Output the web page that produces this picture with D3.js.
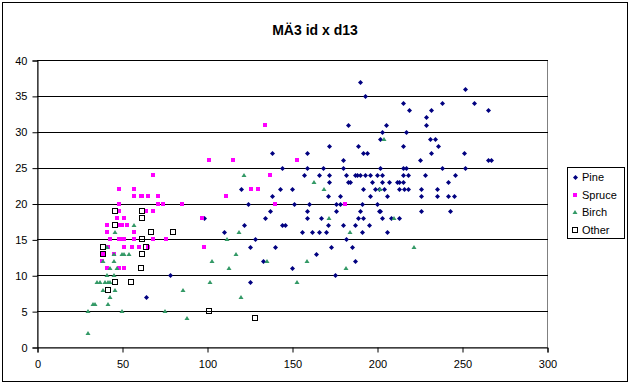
<!DOCTYPE html>
<html>
<head>
<meta charset="utf-8">
<script src="https://cdn.jsdelivr.net/npm/d3@7"></script>
<style>
  body { margin: 0; background: #fff; }
  svg { display: block; font-family: "Liberation Sans", Arial, sans-serif; }
</style>
</head>
<body>
<div id="chart"></div>
<script>
// values: [id, d13]
const pine = [
  [190, 37], [252, 36], [193, 35], [215, 34], [238, 34], [257, 34],
  [219, 33], [232, 33], [265, 33], [229, 32], [183, 31], [205, 31], [229, 31],
  [203, 30], [217, 30], [202, 29], [231, 29], [234, 29],
  [172, 28], [189, 28], [215, 28], [236, 28],
  [138, 27], [159, 27], [192, 27], [194, 27], [232, 27], [251, 27],
  [180, 26], [225, 26], [265, 26], [267, 26],
  [144, 25], [159, 25], [168, 25], [180, 25], [202, 25], [215, 25], [217, 25], [238, 25], [252, 25],
  [157, 24], [166, 24], [172, 24], [182, 24], [187, 24], [188, 24], [190, 24], [193, 24],
  [196, 24], [200, 24], [203, 24], [215, 24], [218, 24], [228, 24], [246, 24],
  [172, 23], [183, 23], [184, 23], [197, 23], [203, 23], [207, 23], [212, 23], [213, 23], [215, 23], [242, 23],
  [120, 22], [143, 22], [150, 22], [192, 22], [199, 22], [201, 22], [204, 22], [213, 22],
  [216, 22], [218, 22], [226, 22], [235, 22],
  [138, 21], [171, 21], [178, 21], [196, 21], [206, 21], [226, 21], [235, 21], [242, 21], [245, 21],
  [124, 20], [151, 20], [160, 20], [176, 20], [178, 20], [191, 20], [200, 20],
  [137, 19], [159, 19], [176, 19], [190, 19], [201, 19], [202, 19], [226, 19], [243, 19],
  [98, 18], [134, 18], [159, 18], [167, 18], [189, 18], [192, 18], [203, 18], [208, 18], [213, 18],
  [122, 17], [144, 17], [146, 17], [171, 17], [180, 17], [187, 17], [195, 17],
  [110, 16], [156, 16], [162, 16], [166, 16], [170, 16], [191, 16], [206, 16],
  [128, 15], [182, 15], [125, 14], [140, 14], [173, 14], [185, 14],
  [164, 13], [133, 12], [187, 12], [150, 11], [78, 10], [175, 10], [125, 9], [64, 7]
];
const spruce = [
  [134, 31], [101, 26], [115, 26], [153, 26], [68, 24], [137, 24],
  [48, 22], [57, 22], [126, 22], [130, 22],
  [57, 21], [61, 21], [62, 21], [65, 21], [71, 21], [111, 21],
  [48, 20], [71, 20], [74, 20], [85, 20], [140, 20], [181, 20],
  [48, 19], [64, 19], [68, 19], [47, 18], [51, 18], [97, 18],
  [41, 17], [48, 17], [50, 17], [53, 17], [41, 16], [57, 16],
  [43, 15], [48, 15], [50, 15], [51, 15], [57, 15], [68, 15], [76, 15],
  [42, 14], [51, 14], [56, 14], [60, 14], [65, 14], [98, 14],
  [39, 13], [45, 13], [38, 12], [41, 11], [48, 11], [51, 11]
];
const birch = [
  [204, 29], [122, 24], [163, 23], [169, 22], [202, 22], [172, 18], [210, 18],
  [57, 17], [46, 16], [119, 16], [184, 16], [112, 15], [41, 14], [222, 14],
  [45, 13], [50, 13], [51, 13], [54, 13], [117, 13],
  [39, 12], [45, 12], [103, 12], [135, 12], [159, 12],
  [43, 11], [47, 11], [113, 11], [182, 11], [41, 10], [45, 10],
  [35, 9], [37, 9], [40, 9], [42, 9], [43, 9], [102, 9], [153, 9],
  [39, 8], [46, 8], [86, 8], [43, 7], [120, 7], [33, 6], [34, 6], [42, 6],
  [30, 5], [50, 5], [75, 5], [88, 4], [30, 2]
];
const other = [
  [46, 19], [62, 19], [62, 18], [46, 17], [67, 16], [80, 16], [62, 15],
  [39, 14], [64, 14], [39, 13], [62, 13], [61, 11], [46, 9], [55, 9], [42, 8],
  [101, 5], [128, 4]
];
const seriesNames = ['Pine', 'Spruce', 'Birch', 'Other'];
const xTicks = [0, 50, 100, 150, 200, 250, 300];
const yTicks = [0, 5, 10, 15, 20, 25, 30, 35, 40];

const W = 631, H = 385;
const plot = { left: 37, right: 547, top: 60, bottom: 347 };

const svg = d3.select('#chart').append('svg')
    .attr('width', W)
    .attr('height', H);

// chart frame
svg.append('rect')
    .attr('x', 2.5).attr('y', 2.5)
    .attr('width', 625).attr('height', 379)
    .attr('fill', '#fff')
    .attr('stroke', '#000');

svg.append('text')
    .attr('x', 315).attr('y', 35)
    .attr('text-anchor', 'middle')
    .attr('font-size', 14)
    .attr('font-weight', 'bold')
    .text('MÄ3 id x d13');

const x = d3.scaleLinear().domain([0, 300]).range([plot.left, plot.right]);
const y = d3.scaleLinear().domain([0, 40]).range([plot.bottom, plot.top]);

// plot area border (grey)
svg.append('rect')
    .attr('x', plot.left + 0.5).attr('y', plot.top + 0.5)
    .attr('width', plot.right - plot.left).attr('height', plot.bottom - plot.top)
    .attr('fill', 'none')
    .attr('stroke', '#808080');

// gridlines
svg.append('g')
  .selectAll('line')
  .data(yTicks.filter(d => d > 0))
  .join('line')
    .attr('x1', plot.left).attr('x2', plot.right + 1)
    .attr('y1', d => Math.round(y(d)) + 0.5)
    .attr('y2', d => Math.round(y(d)) + 0.5)
    .attr('stroke', '#000');

const yAxis = svg.append('g')
    .attr('transform', 'translate(' + (plot.left + 0.5) + ',0.5)')
    .call(d3.axisLeft(y).tickValues(yTicks).tickSize(5).tickPadding(5).tickFormat(d3.format('d')));

const xAxis = svg.append('g')
    .attr('transform', 'translate(0.5,' + (plot.bottom + 0.5) + ')')
    .call(d3.axisBottom(x).tickValues(xTicks).tickSize(5).tickPadding(8).tickFormat(d3.format('d')));

[xAxis, yAxis].forEach(a => {
  a.select('.domain').attr('stroke', '#000');
  a.selectAll('line').attr('stroke', '#000');
  a.selectAll('text')
      .attr('font-size', 11)
      .attr('font-family', '"Liberation Sans", Arial, sans-serif')
      .attr('fill', '#000');
});

// marker drawing per series
const markers = {
  Pine: (g) => g.append('path').attr('d', 'M0.5,-2L3,0.5L0.5,3L-2,0.5Z').attr('fill', '#000080'),
  Spruce: (g) => g.append('rect').attr('x', -2).attr('y', -2).attr('width', 4).attr('height', 4).attr('fill', '#ff00ff'),
  Birch: (g) => g.append('path').attr('d', 'M0,-2L2.5,2L-2.5,2Z').attr('fill', '#339966'),
  Other: (g) => g.append('rect').attr('x', -2.5).attr('y', -2.5).attr('width', 5).attr('height', 5)
      .attr('fill', 'none').attr('stroke', '#000')
};

const seriesData = [pine, spruce, birch, other];

seriesData.forEach((data, i) => {
  const name = seriesNames[i];
  svg.append('g')
    .selectAll('g')
    .data(data)
    .join('g')
      .attr('transform', d => 'translate(' + Math.round(x(d[0])) + ',' + Math.round(y(d[1])) + ')')
      .each(function() { markers[name](d3.select(this)); });
});

// legend
const legend = svg.append('g');
legend.append('rect')
    .attr('x', 567.5).attr('y', 167.5)
    .attr('width', 57).attr('height', 71)
    .attr('fill', '#fff')
    .attr('stroke', '#000');

seriesNames.forEach((name, i) => {
  const ly = 177 + i * 17.7;
  const item = legend.append('g').attr('transform', 'translate(575,' + Math.round(ly) + ')');
  markers[name](item);
  legend.append('text')
      .attr('x', 582).attr('y', ly + 4)
      .attr('font-size', 11)
      .text(name);
});
</script>
</body>
</html>
